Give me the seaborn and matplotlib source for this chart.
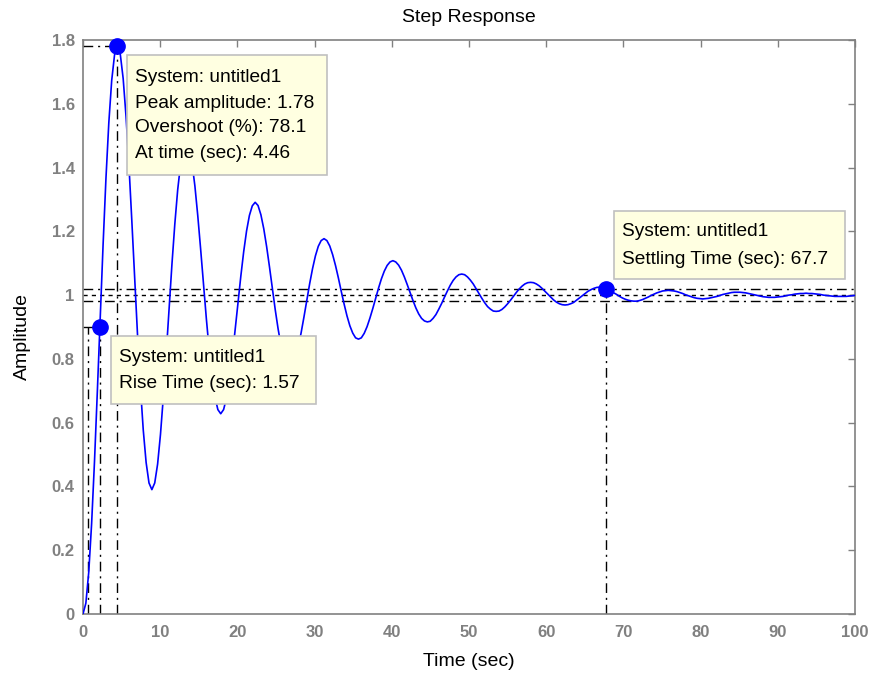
import numpy as np
import pandas as pd
import matplotlib
matplotlib.use("Agg")
import matplotlib.pyplot as plt
import seaborn as sns
from matplotlib.patches import Rectangle

# ---- data (one row per oscillation period) ----
amplitude = [
    0.000, 0.034, 0.131, 0.283, 0.477, 0.698, 0.930, 1.158, 1.366, 1.541, 1.673, 1.754,
    1.781, 1.755, 1.679, 1.560, 1.409, 1.236, 1.054, 0.876, 0.714, 0.577, 0.475, 0.411,
    0.390, 0.411, 0.470, 0.563, 0.681, 0.816, 0.958, 1.097, 1.223, 1.330, 1.410, 1.460,
    1.476, 1.460, 1.414, 1.342, 1.249, 1.144, 1.033, 0.925, 0.826, 0.742, 0.680, 0.641,
    0.628, 0.641, 0.677, 0.733, 0.805, 0.888, 0.974, 1.059, 1.136, 1.201, 1.250, 1.280,
    1.291, 1.281, 1.252, 1.208, 1.152, 1.088, 1.020, 0.954, 0.894, 0.843, 0.805, 0.781,
    0.773, 0.781, 0.803, 0.837, 0.881, 0.931, 0.984, 1.036, 1.083, 1.123, 1.153, 1.171,
    1.177, 1.171, 1.154, 1.127, 1.093, 1.054, 1.012, 0.972, 0.935, 0.904, 0.881, 0.866,
    0.862, 0.866, 0.880, 0.901, 0.928, 0.958, 0.990, 1.022, 1.051, 1.075, 1.093, 1.104,
    1.108, 1.104, 1.094, 1.078, 1.057, 1.033, 1.008, 0.983, 0.960, 0.941, 0.927, 0.919,
    0.916, 0.918, 0.927, 0.939, 0.956, 0.974, 0.994, 1.013, 1.031, 1.046, 1.057, 1.064,
    1.066, 1.064, 1.057, 1.047, 1.035, 1.020, 1.005, 0.990, 0.976, 0.964, 0.956, 0.950,
    0.949, 0.950, 0.955, 0.963, 0.973, 0.984, 0.996, 1.008, 1.019, 1.028, 1.035, 1.039,
    1.040, 1.039, 1.035, 1.029, 1.021, 1.012, 1.003, 0.994, 0.985, 0.978, 0.973, 0.970,
    0.969, 0.970, 0.973, 0.977, 0.984, 0.991, 0.998, 1.005, 1.012, 1.017, 1.021, 1.024,
    1.025, 1.024, 1.021, 1.018, 1.013, 1.007, 1.002, 0.996, 0.991, 0.987, 0.984, 0.982,
    0.981, 0.981, 0.983, 0.986, 0.990, 0.994, 0.999, 1.003, 1.007, 1.010, 1.013, 1.014,
    1.015, 1.014, 1.013, 1.011, 1.008, 1.005, 1.001, 0.998, 0.995, 0.992, 0.990, 0.989,
    0.988, 0.989, 0.990, 0.992, 0.994, 0.996, 0.999, 1.002, 1.004, 1.006, 1.008, 1.009,
    1.009, 1.009, 1.008, 1.007, 1.005, 1.003, 1.001, 0.999, 0.997, 0.995, 0.994, 0.993,
    0.993, 0.993, 0.994, 0.995, 0.996, 0.998, 1.000, 1.001, 1.003, 1.004, 1.005, 1.005,
    1.006, 1.005, 1.005, 1.004, 1.003, 1.002, 1.000, 0.999, 0.998, 0.997, 0.996, 0.996,
    0.996, 0.996, 0.996, 0.997, 0.998, 0.999, 1.000,
]
time_step = 0.37167  # sampling interval (sec)
time = np.arange(len(amplitude)) * time_step

peak_time, peak_amp, overshoot = 4.46, 1.78, 78.1
rise_t10, rise_t90, rise_level, rise_time = 0.62, 2.19, 0.9, 1.57
settle_time, settle_level = 67.7, 1.02
settle_band = [0.98, 1.02]
final_value = 1.0

x_ticks = [0, 10, 20, 30, 40, 50, 60, 70, 80, 90, 100]
y_ticks = [0, 0.2, 0.4, 0.6, 0.8, 1.0, 1.2, 1.4, 1.6, 1.8]
y_tick_labels = ["0", "0.2", "0.4", "0.6", "0.8", "1", "1.2", "1.4", "1.6", "1.8"]

title = "Step Response"
x_label = "Time (sec)"
y_label = "Amplitude"
peak_box = ["System: untitled1", f"Peak amplitude: {peak_amp}",
            f"Overshoot (%): {overshoot}", f"At time (sec): {peak_time}"]
rise_box = ["System: untitled1", f"Rise Time (sec): {rise_time}"]
settle_box = ["System: untitled1", f"Settling Time (sec): {settle_time}"]

# ---- style ----
sns.set_theme(style="white")
plt.rcParams["font.family"] = ["Liberation Sans", "DejaVu Sans"]

W, H = 873, 677
fig = plt.figure(figsize=(W / 100, H / 100), dpi=100)
fig.patch.set_facecolor("white")
ax_l, ax_r, ax_t, ax_b = 83, 855, 40, 614
ax = fig.add_axes([ax_l / W, 1 - ax_b / H, (ax_r - ax_l) / W, (ax_b - ax_t) / H])

df = pd.DataFrame({"Time": time, "Amplitude": amplitude})
sns.lineplot(data=df, x="Time", y="Amplitude", ax=ax, color="#0000ff",
             linewidth=1.2, zorder=3, legend=False)

dashdot = (0, (7, 3.5, 1.5, 3.5))
kw = dict(color="black", linewidth=1.0, zorder=2)
# settling band and final value
for lvl in settle_band:
    ax.axhline(lvl, linestyle=dashdot, **kw)
ax.axhline(final_value, linestyle=(0, (3, 3)), **kw)
# peak
ax.plot([0, peak_time], [peak_amp, peak_amp], linestyle=dashdot, **kw)
ax.plot([peak_time, peak_time], [0, peak_amp], linestyle=dashdot, **kw)
# rise time
ax.plot([0, rise_t90], [rise_level, rise_level], linestyle=dashdot, **kw)
ax.plot([rise_t10, rise_t10], [0, rise_level], linestyle=dashdot, **kw)
ax.plot([rise_t90, rise_t90], [0, rise_level], linestyle=dashdot, **kw)
# settling time
ax.plot([settle_time, settle_time], [0, settle_level], linestyle=dashdot, **kw)

# markers
ax.plot([peak_time, rise_t90, settle_time], [peak_amp, rise_level, settle_level],
        linestyle="none", marker="o", markersize=11, color="#0000ff", zorder=5,
        clip_on=False)

ax.set_xlim(0, 100)
ax.set_ylim(0, 1.8)
ax.set_xticks(x_ticks)
ax.set_xticklabels([str(v) for v in x_ticks])
ax.set_yticks(y_ticks)
ax.set_yticklabels(y_tick_labels)
ax.set_xlabel("")
ax.set_ylabel("")
gray = "#808080"
for s in ax.spines.values():
    s.set_color(gray)
    s.set_linewidth(1.2)
ax.tick_params(direction="in", length=5, width=1, color=gray, labelcolor=gray,
               top=True, right=True, labelsize=12)
ax.tick_params(axis="x", pad=8)
ax.tick_params(axis="y", pad=6)
for lab in ax.get_xticklabels() + ax.get_yticklabels():
    lab.set_fontweight("bold")

fig.text(469 / W, 1 - 18 / H, title, ha="center", va="center", fontsize=14, color="black")
fig.text(469 / W, 1 - 662 / H, x_label, ha="center", va="center", fontsize=14, color="black")
fig.text(22 / W, 1 - 337 / H, y_label, ha="center", va="center", fontsize=14,
         rotation=90, color="black")


def datatip(x0, y0, x1, y1, lines, tx, ys):
    fig.add_artist(Rectangle((x0 / W, 1 - y1 / H), (x1 - x0) / W, (y1 - y0) / H,
                             transform=fig.transFigure, facecolor="#ffffe1",
                             edgecolor="#c0c0c0", linewidth=1.2, zorder=10))
    for line, y in zip(lines, ys):
        fig.text(tx / W, 1 - y / H, line, ha="left", va="center", fontsize=13.8,
                 color="black", zorder=11)


datatip(127, 55, 327, 175, peak_box, 135, [78, 103, 128, 153])
datatip(111, 336, 316, 404, rise_box, 119, [358, 383])
datatip(614, 211, 845, 279, settle_box, 622, [232, 259])

fig.savefig("out.png", dpi=100)
